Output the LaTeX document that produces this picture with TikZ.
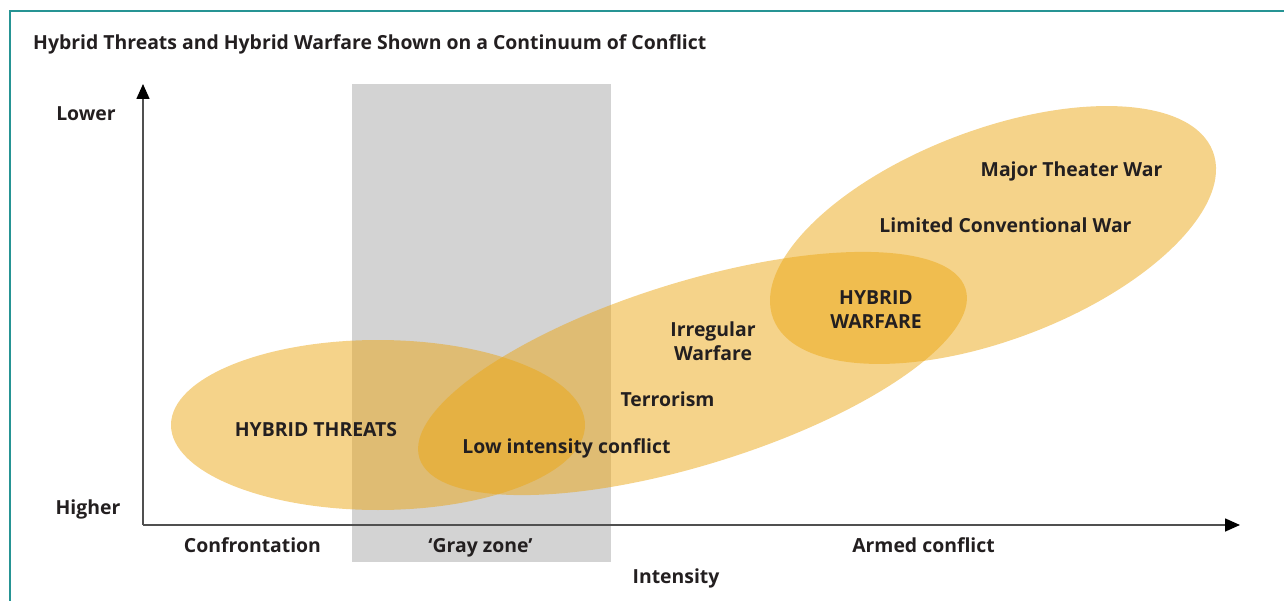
\documentclass[tikz,border=0pt]{standalone}
\usepackage{fontspec}
\setmainfont{Open Sans}
\usetikzlibrary{arrows.meta}
\definecolor{frameteal}{RGB}{38,148,148}
\definecolor{blobfill}{RGB}{235,167,21}
\definecolor{grayzone}{RGB}{211,211,211}
\definecolor{axisgray}{RGB}{80,80,80}
\definecolor{txt}{RGB}{35,31,32}
\tikzset{
  blob/.style={fill=blobfill, fill opacity=0.5},
  lbl/.style={font=\fontsize{19.4}{24}\selectfont\bfseries, text=txt, inner sep=0pt, align=center, anchor=base},
  axisline/.style={draw=axisgray, line width=1.6pt, -{Triangle[length=15pt,width=13pt,color=black]}},
}
\begin{document}
\begin{tikzpicture}[x=1pt,y=-1pt]
\useasboundingbox (0,0) rectangle (1284,601);
% frame
\draw[frameteal, line width=1.6pt] (10,601) -- (10,11) -- (1290,11);
% gray zone
\fill[grayzone] (352,84) rectangle (611,562);
% ellipses
\fill[blob] (378,425) ellipse [x radius=207pt, y radius=85pt];
\fill[blob, rotate around={17.2:(692.5,373.5)}] (692.5,373.5) ellipse [x radius=285.9pt, y radius=91.5pt];
\fill[blob, rotate around={20.8:(993,235)}] (993,235) ellipse [x radius=235.2pt, y radius=105.1pt];
% axes
\coordinate (origin) at (143,525);
\coordinate (ytip) at (143,84);
\coordinate (xtip) at (1240,525);
\draw[axisline] (origin) -- (ytip);
\draw[axisline] (origin) -- (xtip);
% title
\node[lbl, anchor=base west] (title) at (33,50) {Hybrid Threats and Hybrid Warfare Shown on a Continuum of Conflict};
% axis labels
\node[lbl] (lower) at (86,121) {Lower};
\node[lbl] (higher) at (88,514) {Higher};
\node[lbl] (confr) at (252.5,552) {Confrontation};
\node[lbl] (gray) at (480.5,552) {‘Gray zone’};
\node[lbl] (armed) at (923.5,552) {Armed conflict};
\node[lbl] (intens) at (676,583) {Intensity};
% region labels
\node[lbl] (ht) at (316,436) {HYBRID THREATS};
\node[lbl] (lic) at (566.5,453) {Low intensity conflict};
\node[lbl] (terr) at (667.5,406) {Terrorism};
\node[lbl] (irr) at (713,360) {Irregular\\Warfare};
\node[lbl] (hw) at (876,328) {HYBRID\\WARFARE};
\node[lbl] (lcw) at (1005.5,233) {Limited Conventional War};
\node[lbl] (mtw) at (1071.5,177) {Major Theater War};
\end{tikzpicture}
\end{document}
